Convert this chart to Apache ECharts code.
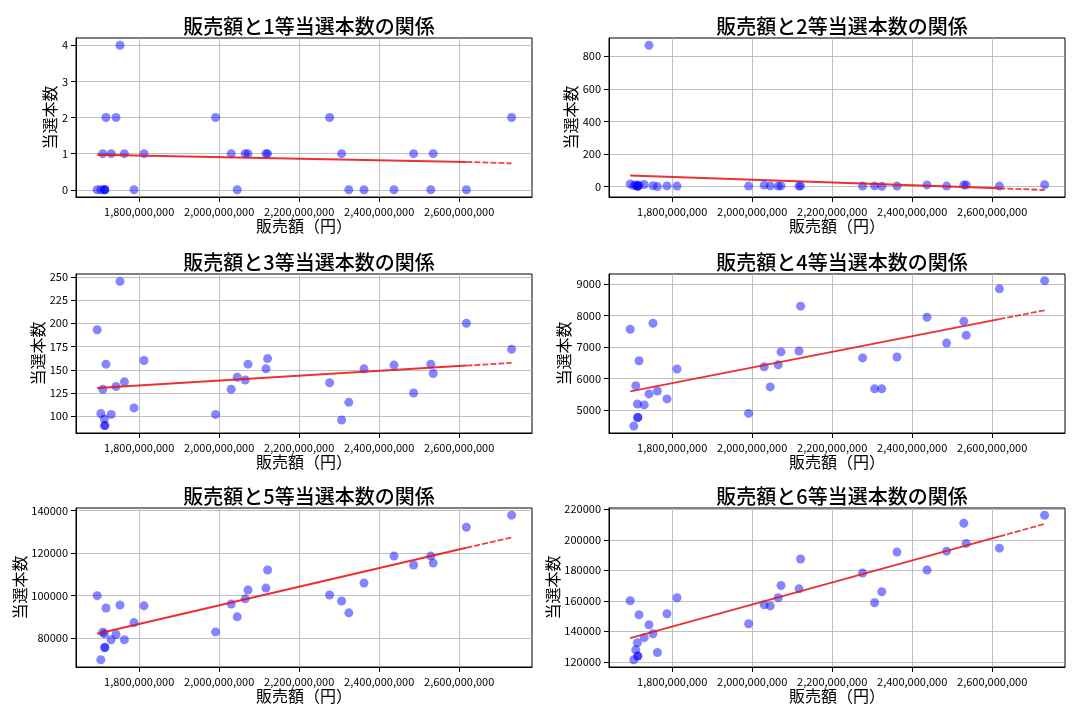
<!DOCTYPE html>
<html><head><meta charset="utf-8">
<script src="https://cdn.jsdelivr.net/npm/echarts@6/dist/echarts.min.js"></script>
<style>html,body{margin:0;padding:0;background:#fff}#c{width:1080px;height:720px}</style>
</head><body><div id="c"></div><script>
// 販売額（円）
const sales = [1695e6,1704e6,1709e6,1713e6,1714e6,1714e6,1717e6,1730e6,1742e6,1752e6,1763e6,1787e6,1812e6,1991e6,2030e6,2045e6,2065e6,2072e6,2117e6,2121e6,2276e6,2306e6,2324e6,2362e6,2437e6,2486e6,2529e6,2535e6,2618e6,2731e6];
// 当選本数
const prize1 = [0,0,1,0,0,0,2,1,2,4,1,0,1,2,1,0,1,1,1,1,2,1,0,0,0,1,0,1,0,2];
const prize2 = [17,7,10,5,3,3,11,13,867,6,1,5,4,4,10,5,4,5,4,5,4,5,3,4,11,4,11,11,4,12];
const prize3 = [193,103,129,97,90,90,156,102,132,245,137,109,160,102,129,142,139,156,151,162,136,96,115,151,155,125,156,146,200,172];
const prize4 = [7560,4490,5770,5190,4760,4760,6560,5160,5510,7750,5600,5350,6300,4890,6370,5730,6430,6840,6870,8290,6650,5670,5670,6680,7940,7120,7810,7370,8840,9100];
const prize5 = [99900,69650,82700,81900,75450,75450,94100,79100,81600,95500,79100,87200,95100,82800,96000,89900,98400,102600,103500,112000,100200,97400,91800,105900,118600,114400,118600,115300,132200,137900];
const prize6 = [160000,121300,127800,132400,123700,123700,150800,135800,144300,138400,126100,151500,162000,144900,157300,156600,162000,170000,167800,187400,178200,158700,165900,191900,180200,192500,210800,197600,194500,216100];
// 回帰直線（図から読み取った値: 最小販売額, 2番目に大きい販売額, 最大販売額）
const fitX = [1695e6, 2618e6, 2731e6];
const fit1 = [0.97, 0.77, 0.73];
const fit2 = [69, -10, -20];
const fit3 = [130.5, 154.5, 157.4];
const fit4 = [5590, 7880, 8160];
const fit5 = [81900, 122500, 127400];
const fit6 = [135500, 202200, 210400];
// 目盛り
const xTicks = [1.8e9, 2.0e9, 2.2e9, 2.4e9, 2.6e9];
const yTicks1 = [0,1,2,3,4];
const yTicks2 = [0,200,400,600,800];
const yTicks3 = [100,125,150,175,200,225,250];
const yTicks4 = [5000,6000,7000,8000,9000];
const yTicks5 = [80000,100000,120000,140000];
const yTicks6 = [120000,140000,160000,180000,200000,220000];
const titles = ['販売額と1等当選本数の関係','販売額と2等当選本数の関係','販売額と3等当選本数の関係','販売額と4等当選本数の関係','販売額と5等当選本数の関係','販売額と6等当選本数の関係'];
const xName = '販売額（円）';
const yName = '当選本数';

const prizes = [prize1,prize2,prize3,prize4,prize5,prize6];
const fits = [fit1,fit2,fit3,fit4,fit5,fit6];
const yTicks = [yTicks1,yTicks2,yTicks3,yTicks4,yTicks5,yTicks6];
const yRange = [[-0.2,4.2],[-63,912],[82,253],[4270,9310],[66240,141290],[116560,220820]];
const xRange = [1642e6, 2782e6];
const lefts = [76, 609], tops = [38, 274, 508], W = 456, H = 159;
const yGaps = [14, 28, 28, 37, 43, 43];
const FONT = '"Noto Sans CJK JP", "Noto Sans", sans-serif';

const grid = [], xAxis = [], yAxis = [], series = [], title = [];
for (let i = 0; i < 6; i++) {
  const col = i % 2, row = Math.floor(i / 2);
  const L = lefts[col], T = tops[row];
  grid.push({left: L, top: T, width: W, height: H, show: true, borderColor: '#000', borderWidth: 1, backgroundColor: 'transparent'});
  title.push({text: titles[i], left: L + W / 2, top: T - 27, textAlign: 'center',
    textStyle: {fontFamily: FONT, fontSize: 20, fontWeight: 500, color: '#000'}});
  xAxis.push({type: 'value', gridIndex: i, min: xRange[0], max: xRange[1],
    name: xName, nameLocation: 'middle', nameGap: 21,
    nameTextStyle: {fontFamily: FONT, fontSize: 16, color: '#000'},
    axisLine: {show: true, onZero: false, lineStyle: {color: '#000', width: 1}},
    axisTick: {show: true, length: 5, customValues: xTicks, lineStyle: {color: '#000'}},
    axisLabel: {customValues: xTicks, margin: 9, fontFamily: FONT, fontSize: 11, color: '#000',
      formatter: v => Math.round(v).toLocaleString('en-US')},
    splitLine: {show: true, lineStyle: {color: '#b0b0b0', width: 0.8}}});
  yAxis.push({type: 'value', gridIndex: i, min: yRange[i][0], max: yRange[i][1],
    name: yName, nameLocation: 'middle', nameGap: yGaps[i], nameRotate: 90,
    nameTextStyle: {fontFamily: FONT, fontSize: 16, color: '#000'},
    axisLine: {show: true, onZero: false, lineStyle: {color: '#000', width: 1}},
    axisTick: {show: true, length: 5, customValues: yTicks[i], lineStyle: {color: '#000'}},
    axisLabel: {customValues: yTicks[i], margin: 8, fontFamily: FONT, fontSize: 11, color: '#000',
      formatter: v => String(v)},
    splitLine: {show: true, lineStyle: {color: '#b0b0b0', width: 0.8}}});
  series.push({type: 'scatter', xAxisIndex: i, yAxisIndex: i, symbolSize: 9,
    itemStyle: {color: 'rgba(0,0,255,0.6)'}, z: 2,
    data: sales.map((x, j) => [x, prizes[i][j]])});
  series.push({type: 'line', xAxisIndex: i, yAxisIndex: i, symbol: 'none', z: 3,
    lineStyle: {color: 'rgba(232,20,20,0.88)', width: 2},
    data: [[fitX[0], fits[i][0]], [fitX[1], fits[i][1]]]});
  series.push({type: 'line', xAxisIndex: i, yAxisIndex: i, symbol: 'none', z: 3,
    lineStyle: {color: 'rgba(232,20,20,0.8)', width: 1.8, type: [6, 2]},
    data: [[fitX[1], fits[i][1]], [fitX[2], fits[i][2]]]});
}
const chart = echarts.init(document.getElementById('c'), null, {renderer: 'canvas'});
chart.setOption({animation: false, backgroundColor: '#fff', title, grid, xAxis, yAxis, series});
</script></body></html>
